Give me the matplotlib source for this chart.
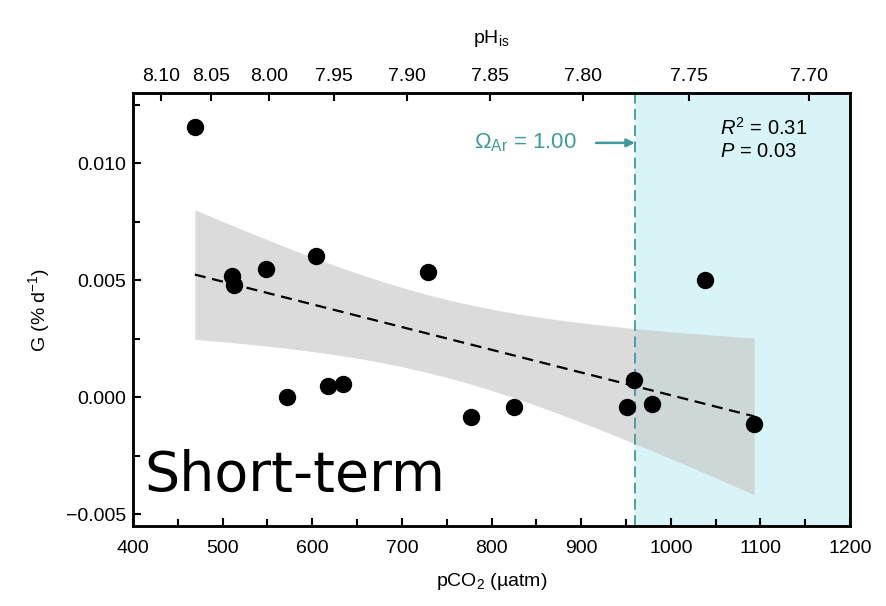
import numpy as np
import matplotlib
matplotlib.use("Agg")
import matplotlib.pyplot as plt
from matplotlib.ticker import MultipleLocator, FuncFormatter

plt.rcParams['font.family'] = ['Liberation Sans', 'DejaVu Sans']
plt.rcParams['mathtext.fontset'] = 'custom'
plt.rcParams['mathtext.rm'] = 'Liberation Sans'
plt.rcParams['mathtext.it'] = 'Liberation Sans:italic'
plt.rcParams['mathtext.bf'] = 'Liberation Sans:bold'

# ---------------- data ----------------
pco2 = [469, 511, 513, 548, 604, 729, 572, 618, 634, 777, 825, 951, 959, 979, 1038, 1093]
growth = [0.01155, 0.0052, 0.0048, 0.00546, 0.00605, 0.00537, 0.0000, 0.00047, 0.00055,
          -0.00085, -0.00043, -0.00043, 0.00072, -0.0003, 0.00499, -0.00115]
omega_pco2 = 960            # pCO2 where Omega_Ar = 1.00
ph_ticks = [8.10, 8.05, 8.00, 7.95, 7.90, 7.85, 7.80, 7.75, 7.70]
ph_ref, co2_ref, ph_slope = 7.90, 705.5, 0.9347   # pH_is = ph_ref - ph_slope*log10(pCO2/co2_ref)
r2_text = "$\\it{R}^2$ = 0.31"
p_text = "$\\it{P}$ = 0.03"
T_975_DF14 = 2.145          # Student t quantile for 95% CI (n-2 = 14)

x = np.asarray(pco2, float)
y = np.asarray(growth, float)

# regression and 95% confidence band
b, a = np.polyfit(x, y, 1)
n = len(x)
res = y - (a + b * x)
s = np.sqrt(np.sum(res ** 2) / (n - 2))
mx = x.mean()
sxx = np.sum((x - mx) ** 2)
xg = np.linspace(x.min(), x.max(), 300)
yg = a + b * xg
hw = T_975_DF14 * s * np.sqrt(1.0 / n + (xg - mx) ** 2 / sxx)

# ---------------- figure ----------------
fig = plt.figure(figsize=(8.86, 6.06), dpi=100)
ax = fig.add_axes([0.1501, 0.132, 0.8093, 0.7145])
ax.set_xlim(400, 1200)
ax.set_ylim(-0.0055, 0.013)

ax.axvspan(omega_pco2, 1200, color=(0.0, 0.72, 0.78), alpha=0.15, lw=0, zorder=1)
ax.fill_between(xg, yg - hw, yg + hw, color=(0.785, 0.785, 0.785), alpha=0.64,
                lw=0, zorder=2)
ax.axvline(omega_pco2, color='#3f9a9c', lw=1.3, ls=(0, (6, 3)), zorder=3)
ax.plot(xg, yg, color='black', lw=1.6, ls=(0, (5, 3)), zorder=4)
ax.plot(x, y, 'o', color='black', ms=11.5, zorder=5)

# annotations
ax.annotate("$\\Omega_{\\rm Ar}$ = 1.00", xy=(omega_pco2, 0.01087), xytext=(-42, 0),
            textcoords='offset points', ha='right', va='center', fontsize=16,
            color='#3f9a9c',
            arrowprops=dict(arrowstyle='-|>', color='#3f9a9c', lw=1.8,
                            shrinkA=12, shrinkB=0, mutation_scale=12))
ax.text(0.819, 0.919, r2_text, transform=ax.transAxes, fontsize=14.5, ha='left', va='center')
ax.text(0.819, 0.864, p_text, transform=ax.transAxes, fontsize=14.5, ha='left', va='center')
ax.text(0.016, 0.082, "Short-term", transform=ax.transAxes, fontsize=40,
        family='DejaVu Sans', ha='left', va='baseline')

# axes styling
for sp in ax.spines.values():
    sp.set_linewidth(1.8)
ax.xaxis.set_major_locator(MultipleLocator(100))
ax.xaxis.set_minor_locator(MultipleLocator(50))
ax.yaxis.set_major_locator(MultipleLocator(0.005))
ax.yaxis.set_minor_locator(MultipleLocator(0.0025))
ax.yaxis.set_major_formatter(FuncFormatter(lambda v, p: f"{v:.3f}".replace('-', '\u2212')))
ax.tick_params(which='both', direction='in', top=False, right=False, width=1.5,
               labelsize=14)
ax.tick_params(which='major', length=6)
ax.tick_params(which='minor', length=5)
ax.tick_params(axis='x', pad=10)
ax.tick_params(axis='y', pad=5)
ax.set_xlabel("pCO$_2$ (µatm)", fontsize=14, labelpad=10)
ax.set_ylabel("G (% d$^{-1}$)", fontsize=14, labelpad=10)

# top pH axis
ax2 = ax.twiny()
ax2.set_xlim(ax.get_xlim())
ph_arr = np.asarray(ph_ticks)
ax2.set_xticks(co2_ref * 10 ** ((ph_ref - ph_arr) / ph_slope))
ax2.set_xticklabels([f"{p:.2f}" for p in ph_ticks])
ax2.tick_params(direction='in', length=6, width=1.5, labelsize=14, pad=6)
for sp in ax2.spines.values():
    sp.set_linewidth(1.8)
ax2.set_xlabel("pH$_{\\rm is}$", fontsize=14, labelpad=18)

fig.savefig("out.png", dpi=100)
